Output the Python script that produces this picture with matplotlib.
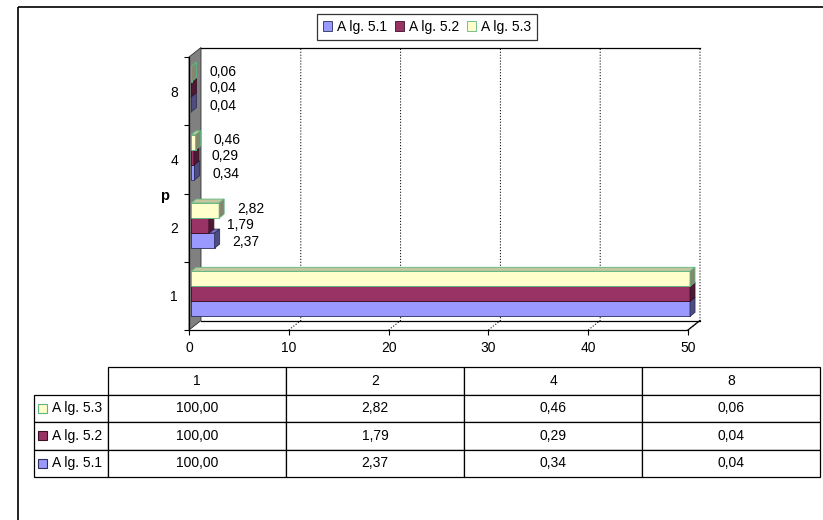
import matplotlib
matplotlib.use('Agg')
import matplotlib.pyplot as plt
from matplotlib.patches import Polygon, Rectangle
from matplotlib.transforms import IdentityTransform, offset_copy
from matplotlib.table import Table
from matplotlib.lines import Line2D

plt.rcParams['font.family'] = ['Liberation Sans', 'DejaVu Sans']

# ---------------- data ----------------
categories = ['1', '2', '4', '8']
series_names = ['A lg. 5.1', 'A lg. 5.2', 'A lg. 5.3']
alg51 = [100.00, 2.37, 0.34, 0.04]
alg52 = [100.00, 1.79, 0.29, 0.04]
alg53 = [100.00, 2.82, 0.46, 0.06]
x_ticks = [0, 10, 20, 30, 40, 50]
y_label = 'p'

# ---------------- styles ----------------
styles = [
    dict(face='#9999FF', side='#4D4D80', top='#7373BF', edge='#2E2E5C', off=0.31, dy=-1.5),
    dict(face='#993366', side='#4D1A33', top='#73264D', edge='#3A1026', off=0.53, dy=1.0),
    dict(face='#FFFFCC', side='#868670', top='#C4C6A0', edge='#5DB67F', off=0.75, dy=2.0),
]
BAR_H = 0.22
FS = 10

def fmt(v):
    return f"{v:.2f}".replace('.', ',')

W, H = 823, 520
DPI = 100
fig = plt.figure(figsize=(W / DPI, H / DPI), dpi=DPI)
fig.patch.set_facecolor('white')

# background axes in pixel space
bg = fig.add_axes([0, 0, 1, 1], zorder=0)
bg.set_xlim(0, W)
bg.set_ylim(H, 0)
bg.axis('off')
bg.plot([18, W], [7, 7], color='black', lw=1.2, clip_on=False, solid_capstyle='butt')
bg.plot([18, 18], [7, H], color='black', lw=1.2, clip_on=False, solid_capstyle='butt')

# ---------------- main (front plane) axes ----------------
FX0, FX1, FY0, FY1 = 189, 688, 330, 57
ax = fig.add_axes([FX0 / W, 1 - FY0 / H, (FX1 - FX0) / W, (FY0 - FY1) / H], zorder=1)
ax.patch.set_visible(False)
xmax = x_ticks[-1]
ncat = len(categories)
ax.set_xlim(0, xmax)
ax.set_ylim(0, ncat)

DX, DY = 12, 9.5  # wall depth in display pixels
BDX, BDY = 5, 4   # bar depth
ID = IdentityTransform()


def disp(x, y):
    return ax.transData.transform((x, y))


def add_poly(verts, fc, ec, lw=0.6, z=1.0):
    p = Polygon(verts, closed=True, transform=ID, facecolor=fc, edgecolor=ec,
                lw=lw, clip_on=False, zorder=z)
    ax.add_patch(p)


def add_line(xs, ys, **kw):
    ln = Line2D(xs, ys, transform=ID, clip_on=False, **kw)
    ax.add_line(ln)

# side wall (gray)
fb = disp(0, 0); ft = disp(0, ncat)
add_poly([fb, ft, (ft[0] + DX, ft[1] + DY), (fb[0] + DX, fb[1] + DY)], '#808080', '#303030', z=0.6)

# gridlines on floor and back wall
for xv in x_ticks[1:]:
    a = disp(xv, 0); t = disp(xv, ncat)
    add_line([a[0], a[0] + DX, t[0] + DX], [a[1], a[1] + DY, t[1] + DY],
             color='black', lw=0.7, linestyle=(0, (1.2, 1.8)), zorder=0.7)
# back wall top edge and floor back edge
lt = disp(0, ncat); rt = disp(xmax, ncat)
add_line([lt[0] + DX, rt[0] + DX], [lt[1] + DY, rt[1] + DY], color='black', lw=0.9, zorder=0.8)
lb = disp(0, 0); rb = disp(xmax, 0)
add_line([lb[0] + DX, rb[0] + DX], [lb[1] + DY, rb[1] + DY], color='black', lw=0.9, zorder=0.8)
add_line([rb[0], rb[0] + DX], [rb[1], rb[1] + DY], color='black', lw=0.9, zorder=0.8)

# bars
bar_tr = offset_copy(ax.transData, fig=fig, x=2, y=0, units='dots')
containers = []
for k, (vals, st) in enumerate(zip([alg51, alg52, alg53], styles)):
    ys = [i + st['off'] for i in range(ncat)]
    widths = [min(v, xmax) for v in vals]
    z = 2 + k
    cont = ax.barh(ys, widths, height=BAR_H, left=0, color=st['face'],
                   edgecolor=st['edge'], linewidth=0.6, transform=bar_tr,
                   clip_on=False, zorder=z, label=series_names[k])
    containers.append(cont)
    for v, rect in zip(vals, cont.patches):
        bb = rect.get_bbox()
        x0, y0 = bar_tr.transform((bb.x0, bb.y0))
        x1, y1 = bar_tr.transform((bb.x1, bb.y1))
        add_poly([(x0, y1), (x1, y1), (x1 + BDX, y1 + BDY), (x0 + BDX, y1 + BDY)],
                 st['top'], st['edge'], z=z)
        add_poly([(x1, y0), (x1, y1), (x1 + BDX, y1 + BDY), (x1 + BDX, y0 + BDY)],
                 st['side'], st['edge'], z=z)
        if v <= xmax:
            ax.annotate(fmt(v), xy=(rect.get_width(), rect.get_y() + rect.get_height() / 2),
                        xytext=(20, st['dy']), textcoords='offset pixels',
                        ha='left', va='center', fontsize=FS, color='black',
                        annotation_clip=False, zorder=10)

ax.set_xlim(0, xmax)
ax.set_ylim(0, ncat)

# axes / ticks
for s in ['top', 'right']:
    ax.spines[s].set_visible(False)
for s in ['left', 'bottom']:
    ax.spines[s].set_color('black')
    ax.spines[s].set_linewidth(0.9)
    ax.spines[s].set_zorder(9)
ax.set_xticks(x_ticks)
ax.set_xticklabels([str(t) for t in x_ticks], fontsize=FS)
ax.tick_params(axis='x', direction='out', length=3.6, width=0.8, pad=4.5, colors='black')
ax.set_yticks(range(ncat + 1))
ax.set_yticklabels([])
ax.set_yticks([i + 0.5 for i in range(ncat)], minor=True)
ax.set_yticklabels(categories, minor=True, fontsize=FS)
ax.tick_params(axis='y', which='major', direction='out', length=3.6, width=0.8)
ax.tick_params(axis='y', which='minor', length=0, pad=8)
ax.set_ylabel(y_label, rotation=0, fontweight='bold', fontsize=10.5, ha='center', va='center')
ax.yaxis.set_label_coords(-24 / (FX1 - FX0), (FY0 - 196) / (FY0 - FY1))

# legend
leg = fig.legend(handles=containers, labels=series_names, ncol=3, loc='center',
                 bbox_to_anchor=(427 / W, 1 - 27 / H), frameon=True, fancybox=False,
                 shadow=False, fontsize=FS, handlelength=0.65, handleheight=0.65,
                 handletextpad=0.35, columnspacing=0.6, borderpad=0.4, borderaxespad=0)
leg.get_frame().set_edgecolor('black')
leg.get_frame().set_linewidth(0.9)

# ---------------- data table ----------------
TX0, TX1, TY0, TY1 = 34, 820, 367, 477
col_w = [74] + [178] * ncat
row_h = 27.5
tb = Table(bg, bbox=[TX0 / W, 1 - TY1 / H, (TX1 - TX0) / W, (TY1 - TY0) / H])
for j, cat in enumerate(categories):
    tb.add_cell(0, j + 1, width=col_w[j + 1], height=row_h, text=cat, loc='center')
rows = [(series_names[2], alg53, styles[2]),
        (series_names[1], alg52, styles[1]),
        (series_names[0], alg51, styles[0])]
for r, (name, vals, st) in enumerate(rows, start=1):
    c = tb.add_cell(r, 0, width=col_w[0], height=row_h, text=name, loc='left')
    c.PAD = 18 / col_w[0]
    for j, v in enumerate(vals):
        tb.add_cell(r, j + 1, width=col_w[j + 1], height=row_h, text=fmt(v), loc='center')
    yc = TY0 + row_h * (r + 0.5)
    bg.add_patch(Rectangle((38, yc - 4.5), 9, 9, facecolor=st['face'], edgecolor=st['edge'],
                           lw=0.8, zorder=5))
tb.auto_set_font_size(False)
tb.set_fontsize(FS)
for cell in tb.get_celld().values():
    cell.set_edgecolor('black')
    cell.set_linewidth(0.9)
bg.add_table(tb)

fig.savefig('out.png', dpi=DPI, facecolor='white')
